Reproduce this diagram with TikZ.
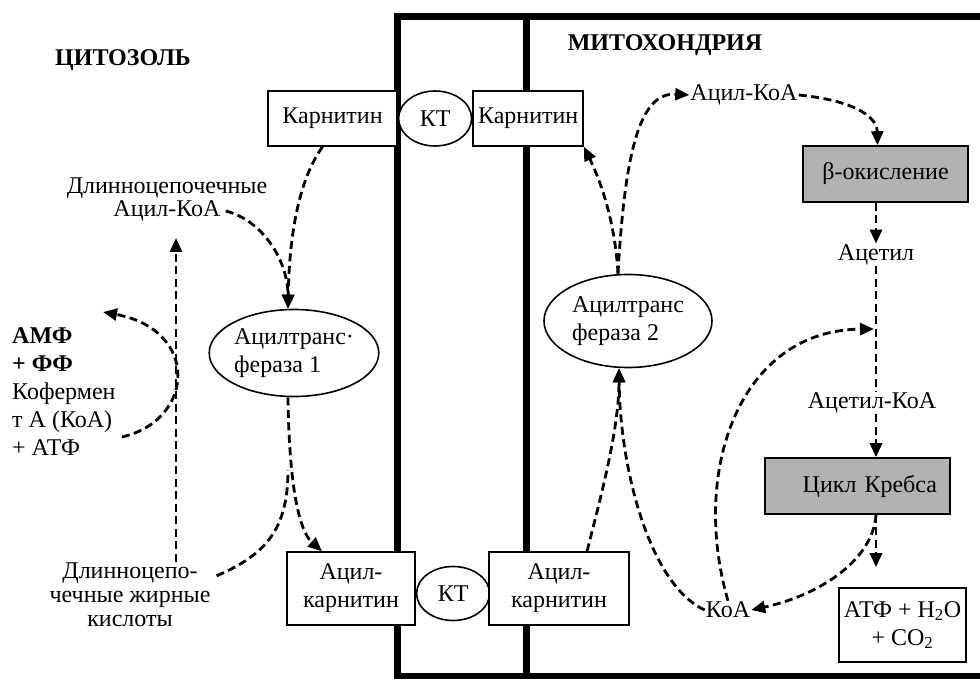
\documentclass[tikz,border=0pt]{standalone}
\usepackage{fontspec}
\setmainfont{Liberation Serif}
\usetikzlibrary{positioning,shapes,arrows,arrows.meta,calc}
\tikzset{box/.style={rectangle, draw=black, line width=1.6pt,
    fill=white, text centered, inner sep=0pt, align=center},
  graybox/.style={box, fill=black!30},
  enzyme/.style={ellipse, draw=black, line width=1.6pt,
    fill=white, inner sep=0pt, align=left},
  txt/.style={inner sep=1pt, align=center},
  heading/.style={inner sep=1pt, font=\fontsize{24}{28}\selectfont\bfseries},
  membrane/.style={line width=7pt, line join=miter},
  myarrow/.style={-{Triangle[length=14pt,width=12pt]}, line width=2.8pt, dash pattern=on 8pt off 4.5pt},
  line/.style={-, line width=2.8pt, dash pattern=on 8pt off 4.5pt}
}

\begin{document}
\begin{tikzpicture}[x=1pt, y=-1pt, font=\fontsize{24}{28}\selectfont]

   \useasboundingbox (0,0) rectangle (980,679);

   %membranes
   \draw[membrane] (397,682) -- (397,17) -- (984,17);
   \draw[membrane] (397,676) -- (984,676);
   \draw[membrane] (526,17) -- (526,682);

   %headings
   \node (cyto) [heading] at (123,60) {ЦИТОЗОЛЬ};
   \node (mito) [heading] at (665,45) {МИТОХОНДРИЯ};

   %carnitine and transporter at the top
   \node (carnL) [box, minimum width=129, minimum height=55] at (332.5,118.5) {Карнитин};
   \node (ktTop) [enzyme, minimum width=73, minimum height=55, right=0pt of carnL] {КТ};
   \node (carnR) [box, minimum width=110, minimum height=55, right=0pt of ktTop] {Карнитин};

   %cytosol side
   \node (chainL) [txt] at (167,188) {Длинноцепочечные};
   \node (acylCoaL) [txt, below=0pt of chainL] {Ацил-КоА};
   \node (cofactors) [txt, align=left, anchor=west] at (11,392)
   {
      \textbf{АМФ}\\\textbf{+ ФФ}\\Кофермен\\т А (КоА)\\+ АТФ
   };
   \node (fattyAcids) [txt, font=\fontsize{24}{24}\selectfont] at (130,595)
   {
      Длинноцепо-\\чечные жирные\\кислоты
   };

   %enzymes
   \node (at1) [enzyme, minimum width=162, minimum height=87] at (294,353) {Ацилтранс·\\фераза 1};
   \node (at2) [enzyme, minimum width=168, minimum height=93] at (628,321) {Ацилтранс\\фераза 2};

   %acylcarnitine and transporter at the bottom
   \node (acL) [box, minimum width=128, minimum height=73] at (351,588.5) {Ацил-\\карнитин};
   \node (ktBot) [enzyme, minimum width=73, minimum height=54, right=0pt of acL, yshift=-5pt] {КТ};
   \node (acR) [box, minimum width=140, minimum height=73] at (559,588.5) {Ацил-\\карнитин};

   %mitochondria side
   \node (acylCoaR) [txt] at (744,95) {Ацил-КоА};
   \node (beta) [graybox, minimum width=165, minimum height=56] at (885.5,174) {β-окисление};
   \node (acetyl) [txt] at (876,255) {Ацетил};
   \node (acetylCoa) [txt] at (872,403) {Ацетил-КоА};
   \node (krebs) [graybox, minimum height=56, text width=159, align=right, inner xsep=13] at (857.5,486) {Цикл Кребса};
   \node (atp) [box, minimum width=127, minimum height=74] at (902.5,625) {АТФ + H\textsubscript{2}O\\+ CO\textsubscript{2}};
   \node (koa) [txt] at (728,610) {КоА};

   \coordinate (upTip) at (176,238);
   \coordinate (cofIn) at (122,437);
   \coordinate (cofOut) at (103,312);
   \coordinate (fatOut) at ($(fattyAcids.north east)+(5,14)$);
   \coordinate (at1Join) at (288,470);
   \coordinate (acJoin) at ($(acetyl.south)!0.5!(acetylCoa.north)$);

   %cytosol arrows
   \draw[myarrow] ([xshift=-10pt]carnL.south) .. controls (295,185) and (289,250) .. ([xshift=-6pt]at1.north);
   \draw[myarrow] ([xshift=4pt]acylCoaL.east) .. controls (262,220) and (288,260) .. ([xshift=-6pt]at1.north);
   \draw[myarrow] (fattyAcids.north -| upTip) -- (upTip);
   \draw[myarrow] (cofIn) .. controls (195,420) and (200,330) .. (cofOut);
   \draw[myarrow] ([xshift=-6pt]at1.south) .. controls (289,480) and (298,530) .. ([xshift=-29pt]acL.north);
   \draw[line] (fatOut) .. controls (265,555) and (288,530) .. (at1Join);

   %mitochondria arrows
   \draw[myarrow] ([xshift=28pt]acR.north) .. controls (600,500) and (619,430) .. ([xshift=-9pt]at2.south);
   \draw[myarrow] (koa.west) .. controls (650,585) and (620,470) .. ([xshift=-9pt]at2.south);
   \draw[myarrow] ([xshift=-10pt]at2.north) .. controls (615,220) and (600,180) .. (carnR.south east);
   \draw[myarrow] ([xshift=-10pt]at2.north) .. controls (625,150) and (640,92) .. (acylCoaR.west);
   \draw[myarrow] (acylCoaR.east) .. controls (850,100) and (877,115) .. ([xshift=-8pt]beta.north);
   \draw[myarrow] (beta.south -| acetyl.north) -- (acetyl.north);
   \draw[line] (acetyl.south) -- (acetyl.south |- acetylCoa.north);
   \draw[myarrow] (acetylCoa.south -| acetyl.south) -- (acetyl.south |- krebs.north);
   \draw[myarrow, shorten >=20pt] (krebs.south -| acetyl.south) -- (atp.north -| acetyl.south);
   \draw[myarrow] (krebs.south -| acetyl.south) .. controls (873,560) and (820,595) .. (koa.east);
   \draw[myarrow] (koa.north) .. controls (690,470) and (740,330) .. (acJoin);

\end{tikzpicture}
\end{document}
